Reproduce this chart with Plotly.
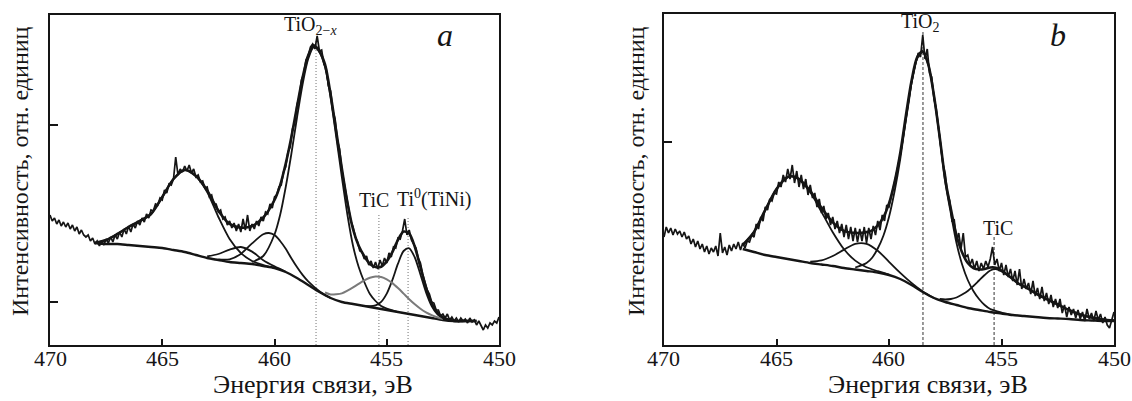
import plotly.graph_objects as go

# ---------------------------------------------------------------------------
# Ti 2p XPS spectra, two samples (a, b). Intensity in arbitrary units.
# ---------------------------------------------------------------------------

# binding energy grid of the measured spectra, eV (470 -> 450, 0.1 eV step)
E_GRID = [round(470.0 - 0.1 * i, 1) for i in range(201)]

# measured spectrum, sample a
SPEC_A = [
    130, 124, 127, 121, 125, 119, 123, 118, 122, 116, 120, 114, 118, 111, 115, 110, 108, 110, 104, 107, 101,
    104, 99, 104, 100, 106, 102, 108, 103, 110, 106, 113, 108, 116, 111, 119, 113, 121, 117, 124, 120,
    127, 123, 131, 127, 135, 134, 141, 140, 147, 145, 155, 152, 161, 160, 166,
    188, 170, 176, 173, 179, 174, 180, 172, 176, 168, 170, 163, 164, 157, 158,
    148, 150, 141, 141, 133, 135, 126, 128, 120, 124, 117, 122, 114, 121, 113,
    126, 115, 130, 114, 121, 116, 124, 119, 128, 124, 133, 131, 141, 137, 148,
    150, 158, 160, 173, 178, 193, 198, 216, 222, 240, 248, 265, 271, 285, 289,
    298, 301, 296, 309, 294, 295, 281, 277, 259, 254, 234, 226, 205, 196, 175,
    163, 150, 137, 124, 118, 108, 103, 94, 93, 86, 89, 80, 84, 77, 83,
    76, 85, 79, 87, 82, 92, 88, 98, 97, 107, 106, 114, 126, 110, 115,
    105, 101, 97, 87, 82, 71, 64, 55, 51, 43, 42, 35, 35, 29, 31,
    27, 31, 25, 28, 24, 27, 23, 27, 24, 26, 22, 27, 23, 25, 20,
    24, 19, 15, 20, 17, 22, 20, 24, 22, 28,
]

# measured spectrum, sample b
SPEC_B = [
    108, 118, 112, 117, 110, 116, 111, 114, 108, 113, 106, 109, 101, 106, 98, 104, 96, 101, 93, 99, 91,
    97, 93, 99, 89, 112, 92, 98, 90, 100, 94, 101, 96, 103, 95, 102, 97, 104, 103, 110, 108,
    121, 116, 128, 124, 138, 135, 146, 144, 152, 151, 163, 158, 170, 163, 176,
    166, 180, 162, 174, 158, 170, 156, 166, 150, 160, 147, 152, 138, 146, 132,
    139, 126, 132, 120, 128, 116, 124, 112, 121, 108, 120, 106, 118, 104, 117,
    103, 116, 104, 118, 102, 117, 106, 119, 110, 124, 115, 130, 124, 140, 138,
    150, 158, 168, 178, 190, 203, 216, 232, 246, 262, 274, 283, 292, 288, 310,
    286, 296, 272, 268, 246, 236, 218, 204, 181, 171, 152, 144, 124, 125, 104,
    112, 96, 112, 88, 90, 80, 86, 76, 84, 74, 82, 76, 84, 78, 86,
    98, 80, 86, 74, 82, 70, 80, 68, 76, 64, 74, 60, 76, 56, 66,
    56, 62, 51, 64, 49, 57, 46, 58, 44, 52, 41, 50, 38, 46, 37,
    46, 32, 40, 28, 38, 30, 36, 27, 35, 26, 33, 24, 36, 26, 32,
    24, 34, 25, 31, 22, 28, 20, 17, 25, 33,
]

# ---------------------------- fit, sample a --------------------------------
BG_A_E = [468, 467.5, 467, 466.5, 466, 465.5, 465, 464.5, 464, 463.5,
          463, 462.5, 462, 461.5, 461, 460.5, 460, 459.5, 459, 458.5,
          458, 457.5, 457, 456.5, 456, 455.5, 455, 454.5, 454, 453.5,
          453, 452.5, 452, 451.5, 451]
BG_A = [102, 101, 101, 100, 99, 98, 97, 95, 93, 90,
        87, 85, 83, 82, 81, 79, 77, 73, 67, 60,
        53, 47, 43, 41, 39, 37, 35, 33, 31, 29,
        27, 25, 24, 24, 24]

P1_A_E = [468, 467.5, 467, 466.5, 466, 465.5, 465, 464.5, 464, 463.5,
          463, 462.5, 462, 461.5, 461, 460.5, 460]
P1_A = [102, 105, 111, 118, 124, 131, 148, 166, 175, 169,
        153, 128, 106, 92, 84, 80, 77]

P2_A_E = [463, 462.5, 462, 461.5, 461, 460.5, 460, 459.5]
P2_A = [88.6, 91, 95.4, 98, 93.4, 84.8, 78.6, 73.3]

P3_A_E = [462.5, 462, 461.5, 461, 460.5, 460.25, 460, 459.75, 459.5, 459.25,
          459, 458.75, 458.5, 458, 457.5]
P3_A = [85.5, 85.7, 91.1, 101.6, 110.7, 112, 109.9, 104, 96.2, 86.8,
        78, 70.1, 63.6, 53.8, 47]

# TiO2-x component
P4_A_E = [461, 460.5, 460, 459.75, 459.5, 459.25, 459, 458.75, 458.5, 458.25,
          458, 457.75, 457.5, 457.25, 457, 456.75, 456.5, 456.25, 456, 455.75,
          455.5, 455.25, 455, 454.5]
P4_A = [83, 89, 110.5, 130, 158, 191, 227, 260.5, 286, 298,
        293, 278, 247, 208, 168, 130, 99, 78, 63, 51,
        44, 39, 36.5, 33]

# TiC component
TIC_A_E = [457.75, 457.5, 457.25, 457, 456.75, 456.5, 456.25, 456, 455.75, 455.5,
           455.25, 455, 454.75, 454.5, 454.25, 454, 453.75, 453.5, 453.25, 453,
           452.75, 452.5]
TIC_A = [52.5, 50.5, 50.7, 51.6, 54.3, 57.6, 61.2, 64.6, 67.2, 68.4,
         68, 65.7, 61.9, 56.9, 51.4, 45.8, 40.7, 36.3, 32.7, 29.9,
         27.7, 25.9]

# Ti0 (TiNi) component
TI0_A_E = [456, 455.75, 455.5, 455.25, 455, 454.75, 454.5, 454.25, 454, 453.75,
           453.5, 453.25, 453, 452.75, 452.5, 452]
TI0_A = [39.2, 38.8, 39.6, 43.2, 51.4, 65, 81.3, 94, 96.7, 87.5,
         70.5, 52.6, 39, 30.9, 26.6, 24]

ENV_A_E = [468, 467.5, 467, 466.5, 466, 465.5, 465, 464.5, 464, 463.5,
           463, 462.5, 462, 461.5, 461, 460.5, 460,
           459.75, 459.5, 459.25, 459, 458.75, 458.5, 458.25, 458, 457.75, 457.5,
           457.25, 457, 456.75, 456.5, 456.25, 456, 455.75, 455.5, 455.25, 455,
           454.75, 454.5, 454.25, 454, 453.75, 453.5, 453.25, 453, 452.75, 452.5,
           452, 451.5, 451]
ENV_A = [102, 105, 111, 118, 124, 131, 148, 166, 175, 169,
         154.6, 134.3, 121.1, 117.4, 119, 127.5, 145,
         159.7, 181.5, 207.8, 238, 267.1, 289.6, 299.7, 293.8, 280.5, 250.5,
         213.7, 176.6, 142.3, 115.6, 99.2, 88.8, 81, 78, 78.2, 83.6,
         92.9, 105.2, 113.4, 111.5, 98.2, 77.8, 57.3, 41.9, 32.7, 27.5,
         24, 24, 24]

# ---------------------------- fit, sample b --------------------------------
BG_B_E = [466.5, 466, 465.5, 465, 464.5, 464, 463.5, 463, 462.5, 462,
          461.5, 461, 460.5, 460, 459.5, 459, 458.5, 458, 457.5, 457,
          456.5, 456, 455.5, 455, 454.5, 454, 453.5, 453, 452.5, 452,
          451.5, 451, 450.5, 450]
BG_B = [96, 93, 90, 88, 86, 84, 82, 80.5, 79, 77,
        75.5, 74, 72.5, 70, 66, 60, 53, 47, 43, 40,
        37, 35, 33, 31.5, 30, 29, 28, 27, 26.5, 26,
        25, 24.5, 24, 24]

P1_B_E = [466.5, 466, 465.5, 465, 464.5, 464.25, 464, 463.5, 463, 462.5,
          462, 461.5, 461, 460.5, 460]
P1_B = [100, 113, 135, 156, 168, 168.5, 166, 152.7, 133.1, 112.7,
        95.7, 84.4, 77.7, 73.8, 70.4]

P2_B_E = [463.5, 463, 462.5, 462, 461.5, 461, 460.5, 460, 459.5, 459, 458.5, 458]
P2_B = [83.3, 84.6, 89, 95.4, 101.2, 101.2, 94.3, 83.2, 72.1, 62.1, 53.6, 47]

# TiO2 component
P3_B_E = [461.5, 461, 460.75, 460.5, 460.25, 460, 459.75, 459.5, 459.25, 459,
          458.75, 458.5, 458.25, 458, 457.75, 457.5, 457.25, 457, 456.75, 456.5,
          456.25, 456, 455.75, 455.5, 455, 454.5]
P3_B = [77.5, 82, 87.3, 96.5, 109.3, 128, 154, 186, 225.7, 261.8,
        286.4, 293, 279.9, 248.8, 207.7, 163, 131.5, 102, 80.5, 65,
        54, 46, 40, 36, 32.5, 30]

# TiC component
TIC_B_E = [457.75, 457.5, 457.25, 457, 456.75, 456.5, 456.25, 456, 455.75, 455.5,
           455.25, 455, 454.75, 454.5, 454.25, 454, 453.75, 453.5, 453, 452.5,
           452, 451.5, 451, 450.5, 450]
TIC_B = [46, 45.5, 46, 47.5, 50.5, 54, 59, 64.5, 70, 74.5,
         75.8, 73.5, 70.3, 66, 61.5, 58.5, 55.5, 52, 46, 40.5,
         35, 30.5, 27.5, 25.5, 24.5]

ENV_B_E = [466.5, 466, 465.5, 465, 464.5, 464.25, 464, 463.5, 463, 462.5,
           462, 461.5, 461, 460.75, 460.5, 460.25, 460, 459.75, 459.5, 459.25,
           459, 458.75, 458.5, 458.25, 458, 457.75, 457.5, 457.25, 457, 456.75,
           456.5, 456.25, 456, 455.75, 455.5, 455.25, 455, 454.75, 454.5, 454.25,
           454, 453.75, 453.5, 453, 452.5, 452, 451.5, 451, 450.5, 450]
ENV_B = [100, 113, 135, 156, 168, 168.5, 165.9, 154, 137.2, 122.7,
         114.1, 112.1, 112.9, 114.7, 119.6, 127.7, 141.6, 163.3, 192.1, 229.4,
         263.9, 287.6, 293.6, 280.2, 249.3, 208.7, 165.5, 136, 109.5, 92.5,
         82, 77, 75.5, 76, 77.5, 77.3, 74.5, 70.3, 66, 61.5,
         58.5, 55.5, 52, 46, 40.5, 35, 30.5, 27.5, 25.5, 24.5]

# peak position markers: (energy, top of marker), per panel
MARKS_A = [(458.15, 305), (455.35, 132), (454.05, 128)]
MARKS_B = [(458.49, 315), (455.33, 108)]

X_TICKS = [470, 465, 460, 455, 450]
X_TICK_LABELS = ["470", "465", "460", "455", "450"]
YTICKS_A = [43, 220]
YTICKS_B = [203]

INK = "#151515"
SERIF = "Liberation Serif"

fig = go.Figure()


def curve(x, y, xa, ya, width, color=INK, shape="spline"):
    fig.add_trace(go.Scatter(
        x=x, y=y, xaxis=xa, yaxis=ya, mode="lines",
        line=dict(color=color, width=width, shape=shape, smoothing=0.8),
        hoverinfo="skip", showlegend=False))


def marker_line(e, top, xa, ya, dash, color, width):
    fig.add_trace(go.Scatter(
        x=[e, e], y=[0, top], xaxis=xa, yaxis=ya, mode="lines",
        line=dict(color=color, width=width, dash=dash),
        hoverinfo="skip", showlegend=False))


# panel a
for e, top in MARKS_A:
    marker_line(e, top, "x", "y", "1px,2px", "#8a8a8a", 1.2)
curve(BG_A_E, BG_A, "x", "y", 2.4)
for xs, ys in [(P1_A_E, P1_A), (P2_A_E, P2_A), (P3_A_E, P3_A),
               (P4_A_E, P4_A), (TI0_A_E, TI0_A)]:
    curve(xs, ys, "x", "y", 1.8)
curve(TIC_A_E, TIC_A, "x", "y", 2.0, color="#7a7a7a")
curve(E_GRID, SPEC_A, "x", "y", 1.7, shape="linear")
curve(ENV_A_E, ENV_A, "x", "y", 2.6)

# panel b
for e, top in MARKS_B:
    marker_line(e, top, "x2", "y2", "3px,2px", "#333333", 1.0)
curve(BG_B_E, BG_B, "x2", "y2", 2.4)
for xs, ys in [(P1_B_E, P1_B), (P2_B_E, P2_B), (P3_B_E, P3_B), (TIC_B_E, TIC_B)]:
    curve(xs, ys, "x2", "y2", 1.8)
curve(E_GRID, SPEC_B, "x2", "y2", 1.7, shape="linear")
curve(ENV_B_E, ENV_B, "x2", "y2", 2.6)

W, H = 1132, 401


def px(v):
    return v / W


def py(v):
    return 1 - v / H


xaxis_common = dict(
    range=[470, 450], tickvals=X_TICKS, ticks="inside", ticklen=6, tickwidth=1.6,
    tickcolor=INK, showticklabels=False, showline=True, linewidth=1.8,
    linecolor=INK, mirror=True, showgrid=False, zeroline=False,
)
yaxis_common = dict(
    ticks="inside", ticklen=8, tickwidth=1.6, tickcolor=INK, showticklabels=False,
    showline=True, linewidth=1.8, linecolor=INK, mirror=True,
    showgrid=False, zeroline=False,
)

fig.update_layout(
    width=W, height=H,
    margin=dict(l=0, r=0, t=0, b=0),
    paper_bgcolor="white", plot_bgcolor="white",
    xaxis=dict(domain=[px(50), px(499)], anchor="y", **xaxis_common),
    yaxis=dict(domain=[py(345), py(15)], range=[0, 330], tickvals=YTICKS_A,
               anchor="x", **yaxis_common),
    xaxis2=dict(domain=[px(664), px(1114)], anchor="y2", **xaxis_common),
    yaxis2=dict(domain=[py(345), py(14)], range=[0, 331], tickvals=YTICKS_B,
                anchor="x2", **yaxis_common),
)

label_font = dict(family=SERIF, size=20, color=INK)
ann = [
    dict(x=458.4, y=320, xref="x", yref="y", text="TiO<sub>2−<i>x</i></sub>", font=label_font),
    dict(x=455.57, y=145, xref="x", yref="y", text="TiC", font=label_font),
    dict(x=452.9, y=147, xref="x", yref="y", text="Ti<sup>0</sup>(TiNi)", font=label_font),
    dict(x=452.4, y=310, xref="x", yref="y", text="<i>a</i>",
         font=dict(family=SERIF, size=32, color=INK)),
    dict(x=458.58, y=323, xref="x2", yref="y2", text="TiO<sub>2</sub>", font=label_font),
    dict(x=455.16, y=117, xref="x2", yref="y2", text="TiC", font=label_font),
    dict(x=452.49, y=310, xref="x2", yref="y2", text="<i>b</i>",
         font=dict(family=SERIF, size=32, color=INK)),
]
# energy tick labels under both panels
for xa in ("x", "x2"):
    for v, t in zip(X_TICKS, X_TICK_LABELS):
        ann.append(dict(x=v, y=py(358), xref=xa, yref="paper", text=t,
                        font=dict(family=SERIF, size=22, color=INK)))
for cx in (313, 928):
    ann.append(dict(x=px(cx), y=py(384), xref="paper", yref="paper",
                    text="Энергия связи, эВ",
                    font=dict(family=SERIF, size=26, color=INK)))
for cx in (20, 636):
    ann.append(dict(x=px(cx), y=py(171), xref="paper", yref="paper",
                    text="Интенсивность, отн. единиц", textangle=-90,
                    font=dict(family=SERIF, size=24, color=INK)))
for a in ann:
    a.update(showarrow=False, xanchor="center", yanchor="middle")
fig.update_layout(annotations=ann)

fig.write_html("out.html")
